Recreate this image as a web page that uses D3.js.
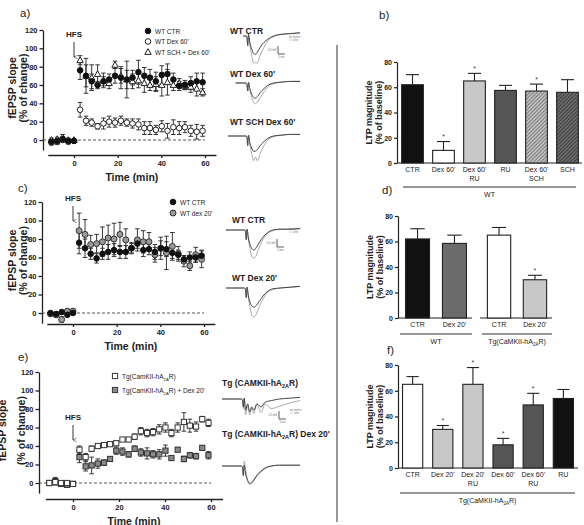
<!DOCTYPE html>
<html><head><meta charset="utf-8">
<script src="https://cdn.jsdelivr.net/npm/d3@7"></script>
<style>body{margin:0;background:#fff;} svg{display:block;} text{font-family:"Liberation Sans",Arial,sans-serif;}</style>
</head><body><svg id="c" width="584" height="525"></svg>
<script>
// ---------- DATA ----------
const timeMin = [-10.3,-7.7,-5.2,-2.6,0,2.8,5.5,8.1,10.8,13.5,16.1,18.8,21.5,24.2,26.8,29.5,32.2,34.8,37.5,40.2,42.8,45.5,48.2,50.8,53.5,56.2,58.9];
const timeTicks = [0,20,40,60];
const slopeTicks = [0,20,40,60,80,100,120];

const aCtr = [-2,-1,1,-1,-1,76,70,64,60,64,66,70,68,66,68,74,70,68,64,71,72,66,59,60,62,64,63];
const aCtrErr = [3,2,2,2,1,10,19,8,4,5,6,8,12,10,8,13,9,9,10,10,11,7,5,5,7,9,10];
const aDex60 = [-3,-2,0,-2,-1,33,21,19,15,18,20,19,21,19,18,17,13,13,11,15,10,14,13,14,10,9,10];
const aDex60Err = [2,3,2,2,1,8,5,4,3,6,6,5,5,4,5,6,7,7,5,6,8,8,7,6,6,8,6];
const aSch = [0,1,3,0,0,87,70,68,72,65,62,82,70,66,64,65,62,60,61,60,63,60,62,59,58,56,52];
const aSchErr = [2,2,3,2,1,5,12,14,10,8,6,4,8,20,8,8,10,6,8,12,14,6,5,4,6,8,4];

const cCtr = [0,-1,1,-2,0,76,70,64,59,64,66,68,66,66,70,75,68,69,66,70,69,65,63,58,60,60,62];
const cCtrErr = [1,1,2,1,1,12,10,6,5,6,8,7,7,7,6,5,7,6,8,8,8,6,5,4,6,5,6];
const cDex20 = [-1,-2,-7,2,2,89,85,74,75,77,81,80,85,79,70,79,77,77,63,70,65,72,64,56,51,63,58];
const cDex20Err = [2,2,3,2,2,19,16,10,10,16,14,17,13,12,5,12,12,10,8,12,18,15,8,6,5,8,9];

const eTg = [0,1,0,0,-1,36,28,37,40,41,42,43,47,47,50,56,54,55,58,60,54,60,66,62,61,69,65];
const eTgErr = [1,3,1,2,1,4,4,3,2,2,2,2,2,2,3,4,4,4,5,5,4,5,10,7,5,3,4];
const eDex = [0,2,-1,-2,-1,28,18,19,21,22,26,35,34,31,37,33,32,31,31,35,27,36,26,30,29,38,30];
const eDexErr = [1,4,1,2,2,6,5,9,5,3,2,4,4,3,3,4,6,4,5,6,2,2,3,3,3,2,4];

const ltpTicks = [0,20,40,60,80];
const bCats = ["CTR","Dex 60'","Dex 60'\nRU","RU","Dex 60'\nSCH","SCH"];
const bVals = [62,10,65,57.5,57,56];
const bErrs = [8,7,6,4,5.5,10];
const bSig = [0,1,1,0,1,0];

const dCats = ["CTR","Dex 20'","CTR","Dex 20'"];
const dVals = [62,58.5,65,30];
const dErrs = [8,6.5,6,3.5];
const dSig = [0,0,0,1];

const fCats = ["CTR","Dex 20'","Dex 20'\nRU","Dex 60'","Dex 60'\nRU","RU"];
const fVals = [65,30,65,18,49,54];
const fErrs = [6,3,13,5,9,7];
const fSig = [0,1,1,1,1,0];

// example fEPSP traces (mV vs ms)
const traceMs = [-8,-4,0,1.5,2,2.4,2.8,3.5,4.5,5.5,6.5,7.5,9,11,13,16,20,25,30];
const a1Pre  = [null,null,0,0,-0.1,-0.6,0.1,-0.4,-0.8,-1.1,-1.15,-1.0,-0.7,-0.4,-0.2,0,0.1,0.15,0.2];
const a1Post = [null,null,0,0,-0.1,-0.6,0.1,-0.5,-1.2,-1.7,-1.65,-1.7,-1.2,-0.7,-0.3,-0.05,0.1,0.15,0.2];
const a2Pre  = [null,0,0,0,-0.1,-0.5,0.05,-0.35,-0.7,-0.9,-0.95,-0.85,-0.6,-0.35,-0.15,0,0.05,0.1,0.1];
const a2Post = [null,0,0,0,-0.1,-0.5,0.05,-0.4,-0.9,-1.2,-1.3,-1.2,-0.9,-0.55,-0.25,-0.05,0.05,0.1,0.1];
const a3Pre  = [0,0,0,0,-0.1,-0.6,0.05,-0.4,-0.75,-0.95,-0.95,-0.85,-0.6,-0.35,-0.15,0,0.05,0.1,0.1];
const a3Post = [0,0,0,0,-0.1,-0.6,0.05,-0.5,-1.1,-1.55,-1.3,-1.55,-1.1,-0.6,-0.25,-0.05,0.05,0.1,0.1];
const c1Pre  = [0,0,0,0,-0.1,-0.6,0.05,-0.5,-0.95,-1.2,-1.25,-1.1,-0.8,-0.45,-0.2,0,0.05,0.05,0.1];
const c1Post = [0,0,0,0,-0.1,-0.6,0.05,-0.6,-1.3,-1.7,-1.75,-1.6,-1.1,-0.6,-0.25,-0.05,0.05,0.05,0.1];
const c2Pre  = [0,0,0,0,-0.1,-0.6,0.05,-0.5,-0.95,-1.15,-1.2,-1.1,-0.85,-0.5,-0.25,-0.05,0,0.05,0.1];
const c2Post = [0,0,0,0,-0.1,-0.6,0.05,-0.6,-1.3,-1.75,-1.8,-1.65,-1.2,-0.7,-0.3,-0.1,0,0.05,0.1];
const e1Pre  = [0,0,0,0,-0.1,-0.5,0.05,-0.7,-0.3,-0.8,-0.5,-0.7,-0.3,-0.5,-0.2,-0.1,0,0.05,0.1];
const e1Post = [0,0,0,0,-0.1,-0.6,0.05,-1.0,-0.4,-1.0,-0.5,-0.9,-0.35,-0.85,-0.3,-0.6,-0.45,-0.25,-0.1];
const e2Pre  = [0,0,0,0,-0.1,-0.6,0.05,-0.5,-0.9,-1.1,-1.05,-0.9,-0.6,-0.35,-0.15,0,0.05,0.05,0.05];
const e2Post = [0,0,0,0,-0.1,-0.6,0.3,-0.2,-0.9,-1.15,-1.0,-0.85,-0.55,-0.3,-0.1,0,0.05,0.05,0.05];

// ---------- DRAW ----------
const svg = d3.select("#c");
const FONT = '"Liberation Sans",Arial,sans-serif';
const defs = svg.append("defs");
function hatch(id, bg, fg){
  const p = defs.append("pattern").attr("id",id).attr("patternUnits","userSpaceOnUse")
    .attr("width",2.6).attr("height",2.6).attr("patternTransform","rotate(45)");
  p.append("rect").attr("width",2.6).attr("height",2.6).attr("fill",bg);
  p.append("line").attr("x1",0).attr("y1",0).attr("x2",0).attr("y2",2.6).attr("stroke",fg).attr("stroke-width",1.1);
}
hatch("hLight","#bdbdbd","#555");
hatch("hDark","#6a6a6a","#222");
defs.append("marker").attr("id","arr").attr("viewBox","0 0 10 10").attr("refX",5).attr("refY",10)
  .attr("markerWidth",4).attr("markerHeight",5).attr("orient","auto-start-reverse")
  .append("path").attr("d","M0,0 L5,10 L10,0").attr("fill","none").attr("stroke","#222").attr("stroke-width",1.5);

function txt(x,y,s,o={}){
  const t = svg.append("text").attr("x",x).attr("y",y).text(s)
    .attr("font-size",o.size||8).attr("font-weight",o.bold?"bold":"normal")
    .attr("text-anchor",o.anchor||"start").attr("fill",o.fill||"#222");
  if(o.rot) t.attr("transform",`rotate(-90,${x},${y})`);
  return t;
}
function subTxt(x,y,pre,sub,post,o={}){
  const t = txt(x,y,"",o);
  t.append("tspan").text(pre);
  t.append("tspan").text(sub).attr("font-size",(o.size||8)*0.65).attr("dy",2);
  t.append("tspan").text(post).attr("dy",-2);
  return t;
}

function marker(g, type, x, y){
  if(type==="filled") g.append("circle").attr("cx",x).attr("cy",y).attr("r",2.8).attr("fill","#111").attr("stroke","#111");
  if(type==="open") g.append("circle").attr("cx",x).attr("cy",y).attr("r",2.8).attr("fill","#fff").attr("stroke","#222").attr("stroke-width",1);
  if(type==="grayc") g.append("circle").attr("cx",x).attr("cy",y).attr("r",3).attr("fill","#9a9a9a").attr("stroke","#333").attr("stroke-width",1);
  if(type==="tri") g.append("path").attr("d",`M${x},${y-3.3} L${x+3.2},${y+2.4} L${x-3.2},${y+2.4} Z`).attr("fill","#fff").attr("stroke","#222").attr("stroke-width",1);
  if(type==="sqo") g.append("rect").attr("x",x-2.6).attr("y",y-2.6).attr("width",5.2).attr("height",5.2).attr("fill","#fff").attr("stroke","#333").attr("stroke-width",1);
  if(type==="sqg") g.append("rect").attr("x",x-2.6).attr("y",y-2.6).attr("width",5.2).attr("height",5.2).attr("fill","#8a8a8a").attr("stroke","#333").attr("stroke-width",1);
}

function linePanel(cfg){
  const g = svg.append("g");
  const k0 = (cfg.x60 - cfg.x0)/60;
  const x = d3.scaleLinear().domain([-12,65]).range([cfg.x0 - 12*k0, cfg.x0 + 65*k0]);
  const ky = (cfg.y0 - cfg.y120)/120;
  const y = d3.scaleLinear().domain([-11,120]).range([cfg.y0 + 11*ky, cfg.y120]);
  const ya = g.append("g").attr("transform",`translate(${cfg.yAxisX},0)`)
    .call(d3.axisLeft(y).tickValues(slopeTicks).tickSize(3.5).tickSizeOuter(0).tickPadding(2));
  const xa = g.append("g").attr("transform",`translate(0,${cfg.xAxisY})`)
    .call(d3.axisBottom(x).tickValues(timeTicks).tickSize(3).tickSizeOuter(0).tickPadding(2.5));
  [ya,xa].forEach(a=>{
    a.selectAll("path,line").attr("stroke","#222").attr("stroke-width",1.3);
    a.selectAll("text").attr("font-size",7.5).attr("font-weight","bold").attr("font-family",FONT).attr("fill","#222");
  });
  g.append("line").attr("x1",cfg.yAxisX).attr("x2",x(60)).attr("y1",y(0)).attr("y2",y(0))
    .attr("stroke","#444").attr("stroke-width",0.9).attr("stroke-dasharray","3,2");
  cfg.series.forEach(s=>{
    const eg = g.append("g").attr("stroke","#222").attr("stroke-width",0.9);
    s.vals.forEach((v,i)=>{
      const e = s.errs[i], xi = x(timeMin[i]);
      if(e < 1.5) return;
      eg.append("line").attr("x1",xi).attr("x2",xi).attr("y1",y(v-e)).attr("y2",y(v+e));
      eg.append("line").attr("x1",xi-2.3).attr("x2",xi+2.3).attr("y1",y(v+e)).attr("y2",y(v+e));
      eg.append("line").attr("x1",xi-2.3).attr("x2",xi+2.3).attr("y1",y(v-e)).attr("y2",y(v-e));
    });
  });
  cfg.series.forEach(s=>{
    s.vals.forEach((v,i)=>marker(g,s.type,x(timeMin[i]),y(v)));
  });
  // HFS
  txt(x(0), cfg.hfsY, "HFS", {bold:true, size:8, anchor:"middle"});
  g.append("line").attr("x1",x(0)).attr("x2",x(0)).attr("y1",cfg.hfsY+5).attr("y2",cfg.hfsY+20)
    .attr("stroke","#222").attr("stroke-width",0.9).attr("marker-end","url(#arr)");
  // titles
  txt((x(-12)+x(65))/2, cfg.xAxisY+26, "Time (min)", {bold:true,size:10.5,anchor:"middle"});
  txt(cfg.yl1, (cfg.y0+cfg.y120)/2 + 3, "fEPSP slope", {bold:true,size:10.5,anchor:"middle",rot:true});
  txt(cfg.yl2, (cfg.y0+cfg.y120)/2 + 3, "(% of change)", {bold:true,size:10.5,anchor:"middle",rot:true});
  // legend
  cfg.legend.forEach((l,i)=>{
    marker(g, l.type, cfg.legX, cfg.legY + i*cfg.legDy);
    if(l.sub){ subTxt(cfg.legX+7, cfg.legY + i*cfg.legDy + 2.5, l.pre, l.sub, l.post, {size:6.5}); }
    else txt(cfg.legX+7, cfg.legY + i*cfg.legDy + 2.5, l.label, {size:6.5});
  });
}

linePanel({x0:74,x60:205,y0:140,y120:30,yAxisX:43,xAxisY:155,hfsY:37,yl1:16,yl2:27,
  legX:148,legY:31,legDy:10.5,
  legend:[{type:"filled",label:"WT CTR"},{type:"open",label:"WT Dex 60'"},{type:"tri",label:"WT SCH + Dex 60'"}],
  series:[{type:"tri",vals:aSch,errs:aSchErr},{type:"open",vals:aDex60,errs:aDex60Err},{type:"filled",vals:aCtr,errs:aCtrErr}]});
linePanel({x0:73,x60:204,y0:313,y120:202,yAxisX:42,xAxisY:324,hfsY:201,yl1:16,yl2:27,
  legX:173,legY:202,legDy:11,
  legend:[{type:"filled",label:"WT CTR"},{type:"grayc",label:"WT dex 20'"}],
  series:[{type:"grayc",vals:cDex20,errs:cDex20Err},{type:"filled",vals:cCtr,errs:cCtrErr}]});
linePanel({x0:73,x60:211,y0:483,y120:372,yAxisX:39,xAxisY:499,hfsY:420,yl1:6,yl2:25,
  legX:115,legY:376,legDy:14,
  legend:[{type:"sqo",sub:true,pre:"Tg(CamKII-hA",sub:"2A",post:"R)"},{type:"sqg",sub:true,pre:"Tg(CamKII-hA",sub:"2A",post:"R) + Dex 20'"}],
  series:[{type:"sqg",vals:eDex,errs:eDexErr},{type:"sqo",vals:eTg,errs:eTgErr}]});

// panel letters
txt(20,17,"a)",{size:11.5}); txt(18,192,"c)",{size:11.5}); txt(18,361,"e)",{size:11.5});
txt(379,19,"b)",{size:11.5}); txt(382,194,"d)",{size:11.5}); txt(387,354,"f)",{size:11.5});

// traces
function trace(baseY, pre, post, x0){
  const tx = d3.scaleLinear().domain([-8,30]).range([x0||228,300]);
  const ty = d3.scaleLinear().domain([-2,0.5]).range([baseY+32, baseY-8]);
  const ln = d3.line().defined(d=>d[1]!=null).x(d=>tx(d[0])).y(d=>ty(d[1])).curve(d3.curveMonotoneX);
  svg.append("path").attr("d",ln(traceMs.map((t,i)=>[t,post[i]]))).attr("fill","none").attr("stroke","#aaa").attr("stroke-width",1);
  svg.append("path").attr("d",ln(traceMs.map((t,i)=>[t,pre[i]]))).attr("fill","none").attr("stroke","#444").attr("stroke-width",1);
}
function scaleBar(x,y){
  svg.append("path").attr("d",`M${x},${y} L${x},${y+8} L${x+7},${y+8}`).attr("fill","none").attr("stroke","#333").attr("stroke-width",0.8);
  txt(x-1.5,y+5,"0.5 mV",{size:2.8,anchor:"end",fill:"#666"});
  txt(x+3.5,y+11.5,"5 ms",{size:2.8,anchor:"middle",fill:"#666"});
}
function traceLegend(x,y){
  svg.append("line").attr("x1",x).attr("x2",x+3).attr("y1",y).attr("y2",y).attr("stroke","#444").attr("stroke-width",0.6);
  svg.append("line").attr("x1",x).attr("x2",x+3).attr("y1",y+3).attr("y2",y+3).attr("stroke","#aaa").attr("stroke-width",0.6);
  txt(x+4,y+1,"before",{size:2.6,fill:"#777"}); txt(x+4,y+4,"after",{size:2.6,fill:"#777"});
}
txt(230,34,"WT CTR",{bold:true,size:8.5});
trace(36,a1Pre,a1Post); scaleBar(278,46); traceLegend(289,37);
txt(230,77,"WT Dex 60'",{bold:true,size:8.5});
trace(83,a2Pre,a2Post);
txt(230,125,"WT SCH Dex 60'",{bold:true,size:8.5});
trace(136,a3Pre,a3Post);

txt(232,223,"WT CTR",{bold:true,size:8.5});
trace(230,c1Pre,c1Post,226); scaleBar(277,239); traceLegend(289,229);
txt(232,281,"WT Dex 20'",{bold:true,size:8.5});
trace(288,c2Pre,c2Post,226);

subTxt(222,386,"Tg (CAMKII-hA","2A","R)",{bold:true,size:8.5});
trace(399,e1Pre,e1Post,222); scaleBar(279,411); traceLegend(290,410);
subTxt(222,437,"Tg (CAMKII-hA","2A","R) Dex 20'",{bold:true,size:8.5});
trace(466,e2Pre,e2Post,222);

// divider
svg.append("line").attr("x1",337).attr("x2",337).attr("y1",45).attr("y2",522).attr("stroke","#555").attr("stroke-width",1.2);

// bar panels
function barPanel(cfg){
  const g = svg.append("g");
  const y = d3.scaleLinear().domain([0,80]).range([cfg.y0, cfg.y80]);
  const ya = g.append("g").attr("transform",`translate(${cfg.yAxisX},0)`)
    .call(d3.axisLeft(y).tickValues(ltpTicks).tickSize(3).tickSizeOuter(0).tickPadding(2));
  ya.selectAll("path,line").attr("stroke","#222").attr("stroke-width",1.2);
  ya.selectAll("text").attr("font-size",7).attr("font-weight","bold").attr("font-family",FONT).attr("fill","#222");
  cfg.groups.forEach(gr=>{
    const idx = gr.idx;
    const xb = d3.scaleBand().domain(idx).range(gr.range).paddingInner(cfg.pin).paddingOuter(cfg.pout);
    g.append("line").attr("x1",gr.axis[0]).attr("x2",gr.axis[1]).attr("y1",cfg.y0).attr("y2",cfg.y0).attr("stroke","#222").attr("stroke-width",1.2);
    idx.forEach(i=>{
      const bx = xb(i), bw = xb.bandwidth(), v = cfg.vals[i], e = cfg.errs[i];
      const cx = bx + bw/2;
      g.append("line").attr("x1",cx).attr("x2",cx).attr("y1",y(v)).attr("y2",y(v+e)).attr("stroke","#222").attr("stroke-width",1.1);
      g.append("line").attr("x1",cx-bw*0.3).attr("x2",cx+bw*0.3).attr("y1",y(v+e)).attr("y2",y(v+e)).attr("stroke","#222").attr("stroke-width",1.1);
      g.append("rect").attr("x",bx).attr("y",y(v)).attr("width",bw).attr("height",cfg.y0-y(v))
        .attr("fill",cfg.fills[i]).attr("stroke","#222").attr("stroke-width",1.1);
      if(cfg.sig[i]) txt(cx, y(v+e)-2.5, "*", {size:7, anchor:"middle", fill:"#444"});
      cfg.cats[i].split("\n").forEach((s,j)=>txt(cx, cfg.y0+9+j*8.5, s, {size:7, anchor:"middle"}));
    });
    g.append("line").attr("x1",gr.br[0]).attr("x2",gr.br[1]).attr("y1",cfg.brY).attr("y2",cfg.brY).attr("stroke","#333").attr("stroke-width",1);
    if(gr.sub) subTxt((gr.br[0]+gr.br[1])/2, cfg.brY+9.5, gr.pre, gr.sub, gr.post, {size:7,anchor:"middle"});
    else txt((gr.br[0]+gr.br[1])/2, cfg.brY+9.5, gr.label, {size:7,anchor:"middle"});
  });
  const cy = (cfg.y0+cfg.y80)/2;
  txt(cfg.yAxisX-25, cy, "LTP magnitude", {bold:true,size:9,anchor:"middle",rot:true});
  txt(cfg.yAxisX-15, cy, "(% of baseline)", {bold:true,size:9,anchor:"middle",rot:true});
}
barPanel({vals:bVals,errs:bErrs,sig:bSig,cats:bCats,y0:163,y80:62,yAxisX:397,brY:187,pin:0.3,pout:0.15,
  fills:["#111","#fff","#c8c8c8","#555","url(#hLight)","url(#hDark)"],
  groups:[{idx:[0,1,2,3,4,5],range:[397,583],axis:[397,582],br:[403,576],label:"WT"}]});
barPanel({vals:dVals,errs:dErrs,sig:dSig,cats:dCats,y0:318,y80:216,yAxisX:398,brY:334,pin:0.35,pout:0.15,
  fills:["#111","#6b6b6b","#fff","#c8c8c8"],
  groups:[{idx:[0,1],range:[400,472],axis:[398,472],br:[400,472],label:"WT"},
          {idx:[2,3],range:[482,552],axis:[480,552],br:[482,552],sub:true,pre:"Tg(CaMKII-hA",sub:"2A",post:"R)"}]});
barPanel({vals:fVals,errs:fErrs,sig:fSig,cats:fCats,y0:468,y80:365,yAxisX:398,brY:493,pin:0.33,pout:0.15,
  fills:["#fff","#c8c8c8","#c8c8c8","#555","#555","#111"],
  groups:[{idx:[0,1,2,3,4,5],range:[398,578],axis:[398,578],br:[400,575],sub:true,pre:"Tg(CaMKII-hA",sub:"2A",post:"R)"}]});
</script></body></html>
